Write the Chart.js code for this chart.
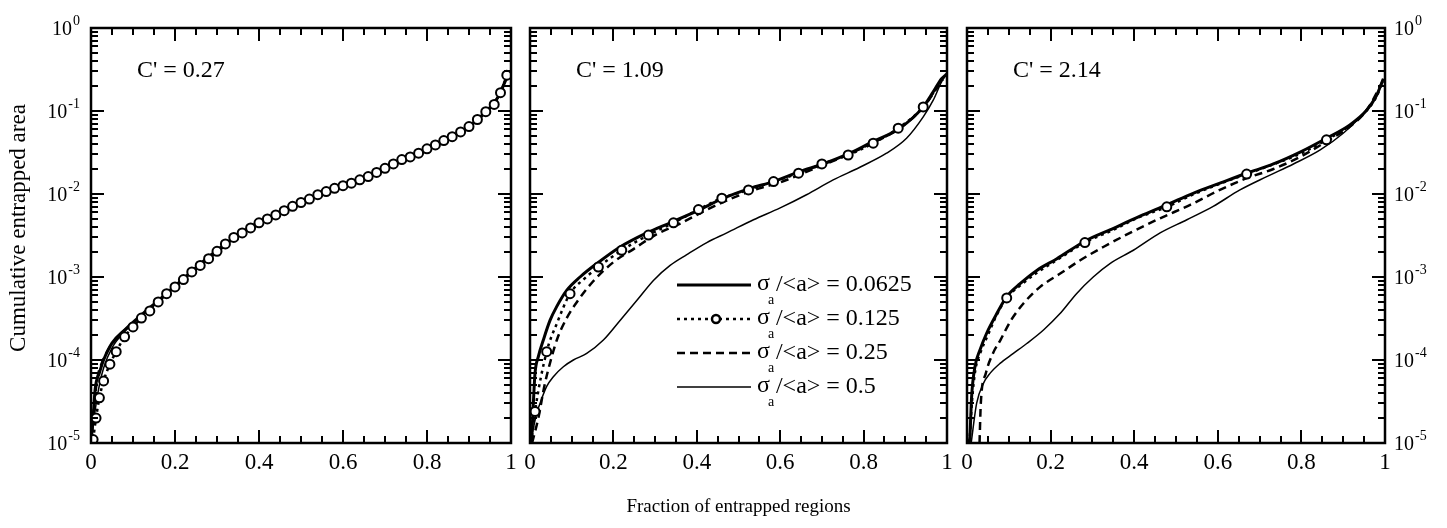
<!DOCTYPE html>
<html>
<head>
<meta charset="utf-8">
<script src="https://cdn.jsdelivr.net/npm/chart.js@4.4.0/dist/chart.umd.min.js"></script>
<style>
  html, body { margin: 0; padding: 0; background: #fff; }
  #wrap { position: relative; width: 1447px; height: 528px; }
  #wrap canvas { position: absolute; left: 0; top: 0; }
</style>
</head>
<body>
<div id="wrap">
  <canvas id="c1" width="1447" height="528"></canvas>
  <canvas id="c2" width="1447" height="528"></canvas>
  <canvas id="c3" width="1447" height="528"></canvas>
</div>
<script>
// ---- data (x = fraction of entrapped regions, y = cumulative entrapped area) ----
const sigmaLabels = ['0.0625', '0.125', '0.25', '0.5'];
const cValues = ['0.27', '1.09', '2.14'];
const xTicks = [0, 0.2, 0.4, 0.6, 0.8, 1];
const xTickLabels = ['0', '0.2', '0.4', '0.6', '0.8', '1'];
const yDecades = [-5, -4, -3, -2, -1, 0];

// C' = 0.27
const p1s0625 = [[0,1e-5],[0.005,2e-5],[0.01,4.5e-5],[0.02,7e-5],[0.03,1e-4],[0.05,1.6e-4],[0.08,2.3e-4],[0.12,3.5e-4],[0.16,5.2e-4],[0.2,7.8e-4],[0.25,1.3e-3],[0.3,2.1e-3],[0.35,3.2e-3],[0.4,4.6e-3],[0.45,6.0e-3],[0.5,8.0e-3],[0.55,1.03e-2],[0.6,1.27e-2],[0.65,1.55e-2],[0.7,2.05e-2],[0.75,2.7e-2],[0.8,3.5e-2],[0.85,4.6e-2],[0.9,6.5e-2],[0.94,9.8e-2],[0.97,0.15],[0.99,0.25],[1.0,0.3]];
const p1s125 = [[0.005,1.1e-5],[0.012,2.0e-5],[0.02,3.5e-5],[0.03,5.6e-5],[0.045,8.9e-5],[0.06,1.26e-4],[0.08,1.9e-4],[0.1,2.5e-4],[0.12,3.2e-4],[0.14,3.9e-4],[0.16,5.0e-4],[0.18,6.3e-4],[0.2,7.6e-4],[0.22,9.3e-4],[0.24,1.15e-3],[0.26,1.38e-3],[0.28,1.66e-3],[0.3,2.04e-3],[0.32,2.5e-3],[0.34,3.0e-3],[0.36,3.4e-3],[0.38,3.9e-3],[0.4,4.5e-3],[0.42,5.0e-3],[0.44,5.6e-3],[0.46,6.3e-3],[0.48,7.1e-3],[0.5,7.9e-3],[0.52,8.7e-3],[0.54,9.8e-3],[0.56,1.07e-2],[0.58,1.17e-2],[0.6,1.26e-2],[0.62,1.35e-2],[0.64,1.48e-2],[0.66,1.62e-2],[0.68,1.82e-2],[0.7,2.04e-2],[0.72,2.3e-2],[0.74,2.6e-2],[0.76,2.8e-2],[0.78,3.1e-2],[0.8,3.5e-2],[0.82,3.9e-2],[0.84,4.4e-2],[0.86,4.9e-2],[0.88,5.6e-2],[0.9,6.5e-2],[0.92,7.9e-2],[0.94,9.8e-2],[0.96,0.12],[0.975,0.166],[0.99,0.27]];
const p1s25 = [[0,1e-5],[0.008,3e-5],[0.015,6e-5],[0.025,9e-5],[0.04,1.3e-4],[0.06,1.8e-4],[0.1,2.8e-4],[0.15,4.6e-4],[0.2,7.6e-4],[0.25,1.25e-3],[0.3,2.0e-3],[0.35,3.1e-3],[0.4,4.5e-3],[0.45,5.9e-3],[0.5,7.9e-3],[0.55,1.02e-2],[0.6,1.26e-2],[0.65,1.55e-2],[0.7,2.0e-2],[0.75,2.7e-2],[0.8,3.5e-2],[0.85,4.6e-2],[0.9,6.4e-2],[0.94,9.6e-2],[0.97,0.15],[0.99,0.25],[1.0,0.3]];
const p1s5 = [[0,1e-5],[0.01,2.5e-5],[0.02,5e-5],[0.03,8e-5],[0.05,1.4e-4],[0.08,2.2e-4],[0.12,3.4e-4],[0.16,5.0e-4],[0.2,7.6e-4],[0.25,1.25e-3],[0.3,2.0e-3],[0.35,3.1e-3],[0.4,4.4e-3],[0.45,5.9e-3],[0.5,7.8e-3],[0.55,1.0e-2],[0.6,1.25e-2],[0.65,1.55e-2],[0.7,2.0e-2],[0.75,2.65e-2],[0.8,3.45e-2],[0.85,4.5e-2],[0.9,6.3e-2],[0.94,9.5e-2],[0.97,0.15],[0.99,0.25],[1.0,0.3]];

// C' = 1.09
const p2s0625 = [[0,1e-5],[0.004,1.2e-5],[0.008,3.0e-5],[0.012,6.9e-5],[0.02,1.1e-4],[0.032,1.74e-4],[0.048,3.0e-4],[0.064,4.4e-4],[0.088,6.9e-4],[0.12,1.0e-3],[0.16,1.45e-3],[0.216,2.3e-3],[0.28,3.4e-3],[0.336,4.5e-3],[0.4,6.2e-3],[0.464,8.9e-3],[0.528,1.17e-2],[0.584,1.41e-2],[0.647,1.86e-2],[0.703,2.3e-2],[0.767,3.1e-2],[0.823,4.3e-2],[0.887,6.2e-2],[0.943,0.112],[0.967,0.17],[0.987,0.245],[1.0,0.28]];
const p2s125 = [[0.003,1.0e-5],[0.012,2.4e-5],[0.04,1.26e-4],[0.065,2.8e-4],[0.096,6.3e-4],[0.13,9.5e-4],[0.164,1.32e-3],[0.22,2.1e-3],[0.284,3.2e-3],[0.344,4.5e-3],[0.404,6.5e-3],[0.46,8.9e-3],[0.524,1.12e-2],[0.584,1.41e-2],[0.644,1.78e-2],[0.7,2.3e-2],[0.763,2.95e-2],[0.823,4.1e-2],[0.883,6.2e-2],[0.943,0.112],[0.99,0.25]];
const p2s25 = [[0.005,1.0e-5],[0.02,2.0e-5],[0.035,5.0e-5],[0.05,1.0e-4],[0.065,1.78e-4],[0.088,3.2e-4],[0.115,5.2e-4],[0.15,8.7e-4],[0.2,1.51e-3],[0.25,2.2e-3],[0.3,3.2e-3],[0.36,4.4e-3],[0.42,6.3e-3],[0.48,8.7e-3],[0.55,1.17e-2],[0.6,1.38e-2],[0.65,1.74e-2],[0.7,2.2e-2],[0.76,2.95e-2],[0.82,4.1e-2],[0.88,5.9e-2],[0.94,0.107],[0.99,0.24]];
const p2s5 = [[0,1e-5],[0.004,1.2e-5],[0.016,2.3e-5],[0.024,3.0e-5],[0.04,4.8e-5],[0.056,6.3e-5],[0.08,8.3e-5],[0.104,1.0e-4],[0.136,1.2e-4],[0.176,1.74e-4],[0.216,3.0e-4],[0.256,5.2e-4],[0.296,9.1e-4],[0.336,1.38e-3],[0.376,1.86e-3],[0.424,2.6e-3],[0.472,3.4e-3],[0.536,4.9e-3],[0.6,6.8e-3],[0.663,9.8e-3],[0.727,1.48e-2],[0.791,2.1e-2],[0.855,3.1e-2],[0.903,4.7e-2],[0.943,8.5e-2],[0.967,0.135],[0.987,0.224],[1.0,0.28]];

// C' = 2.14
const p3s0625 = [[0.004,1e-5],[0.007,1.2e-5],[0.011,3.6e-5],[0.019,8.3e-5],[0.031,1.32e-4],[0.047,2.1e-4],[0.071,3.6e-4],[0.095,5.8e-4],[0.127,8.3e-4],[0.167,1.2e-3],[0.215,1.66e-3],[0.282,2.7e-3],[0.342,3.7e-3],[0.414,5.4e-3],[0.478,7.4e-3],[0.541,1.02e-2],[0.605,1.35e-2],[0.669,1.78e-2],[0.733,2.3e-2],[0.797,3.2e-2],[0.86,4.7e-2],[0.916,6.8e-2],[0.956,0.102],[0.98,0.155],[0.996,0.245]];
const p3s125 = [[0.006,1.0e-5],[0.012,3.2e-5],[0.02,7.6e-5],[0.033,1.26e-4],[0.05,2.0e-4],[0.07,3.4e-4],[0.095,5.6e-4],[0.13,8.1e-4],[0.17,1.15e-3],[0.22,1.66e-3],[0.282,2.6e-3],[0.35,3.7e-3],[0.41,5.2e-3],[0.478,7.0e-3],[0.54,9.8e-3],[0.6,1.3e-2],[0.669,1.74e-2],[0.73,2.25e-2],[0.8,3.1e-2],[0.86,4.5e-2],[0.915,6.6e-2],[0.955,0.1],[0.98,0.15],[0.996,0.24]];
const p3s25 = [[0.03,1e-5],[0.033,3.0e-5],[0.045,6.9e-5],[0.062,1.2e-4],[0.08,1.74e-4],[0.105,3.0e-4],[0.135,4.8e-4],[0.175,7.6e-4],[0.223,1.1e-3],[0.27,1.58e-3],[0.326,2.3e-3],[0.39,3.4e-3],[0.462,5.1e-3],[0.534,7.4e-3],[0.605,1.12e-2],[0.669,1.55e-2],[0.733,2.0e-2],[0.797,2.8e-2],[0.86,4.3e-2],[0.916,6.5e-2],[0.956,0.102],[0.996,0.234]];
const p3s5 = [[0.01,1e-5],[0.023,3.0e-5],[0.039,5.2e-5],[0.055,6.9e-5],[0.079,9.1e-5],[0.111,1.2e-4],[0.143,1.58e-4],[0.183,2.3e-4],[0.222,3.6e-4],[0.262,6.3e-4],[0.302,1.0e-3],[0.342,1.45e-3],[0.398,2.1e-3],[0.462,3.4e-3],[0.526,4.9e-3],[0.589,7.1e-3],[0.653,1.12e-2],[0.717,1.62e-2],[0.781,2.3e-2],[0.845,3.4e-2],[0.9,5.4e-2],[0.948,9.3e-2],[0.98,0.155],[0.996,0.245]];

// which points of the sigma=0.125 series carry a circle
const p2Marks = [1, 2, 4, 6, 7, 8, 9, 10, 11, 12, 13, 14, 15, 16, 17, 18, 19];
const p3Marks = [6, 10, 13, 16, 19];

// ---- drawing ----
const FONT = '"Liberation Serif", "Times New Roman", serif';
const toXY = arr => arr.map(p => ({ x: p[0], y: p[1] }));

function makeDatasets(series, marks) {
  const base = { borderColor: '#000', pointRadius: 0, cubicInterpolationMode: 'monotone', fill: false };
  return [
    Object.assign({}, base, { label: sigmaLabels[0], data: toXY(series[0]), borderWidth: 3, order: 1 }),
    Object.assign({}, base, {
      label: sigmaLabels[1], data: toXY(series[1]), borderWidth: 2.5, borderDash: [3, 4], order: 0,
      pointRadius: ctx => (marks === 'all' || marks.includes(ctx.dataIndex)) ? 4.5 : 0,
      pointBorderWidth: 2, pointBackgroundColor: '#fff', pointBorderColor: '#000', marker: true
    }),
    Object.assign({}, base, { label: sigmaLabels[2], data: toXY(series[2]), borderWidth: 2.5, borderDash: [8, 5], order: 1 }),
    Object.assign({}, base, { label: sigmaLabels[3], data: toXY(series[3]), borderWidth: 1.5, order: 1 })
  ];
}

function drawPow(ctx, x, y, exp, align) {
  ctx.font = '20px ' + FONT;
  const w1 = ctx.measureText('10').width;
  ctx.font = '14px ' + FONT;
  const w2 = ctx.measureText(exp).width;
  const x0 = align === 'right' ? x - w1 - w2 - 1 : x;
  ctx.textAlign = 'left';
  ctx.textBaseline = 'alphabetic';
  ctx.font = '20px ' + FONT;
  ctx.fillText('10', x0, y + 7);
  ctx.font = '14px ' + FONT;
  ctx.fillText(exp, x0 + w1 + 1, y - 3);
}

const framePlugin = {
  id: 'frame',
  afterDraw(chart, args, o) {
    const ctx = chart.ctx, a = chart.chartArea;
    const xs = chart.scales.x, ys = chart.scales.y;
    ctx.save();
    ctx.strokeStyle = '#000';
    ctx.fillStyle = '#000';
    ctx.setLineDash([]);

    // ticks pointing inward on all four sides
    ctx.lineWidth = 2;
    ctx.beginPath();
    for (let k = 0; k <= 20; k++) {
      const px = Math.round(xs.getPixelForValue(k * 0.05));
      const len = k % 4 === 0 ? 13 : 7;
      ctx.moveTo(px, a.bottom); ctx.lineTo(px, a.bottom - len);
      ctx.moveTo(px, a.top); ctx.lineTo(px, a.top + len);
    }
    yDecades.forEach(e => {
      const dec = Math.pow(10, e);
      const py = Math.round(ys.getPixelForValue(dec));
      ctx.moveTo(a.left, py); ctx.lineTo(a.left + 13, py);
      ctx.moveTo(a.right, py); ctx.lineTo(a.right - 13, py);
      if (e < 0) {
        for (let m = 2; m <= 9; m++) {
          const pm = Math.round(ys.getPixelForValue(m * dec));
          ctx.moveTo(a.left, pm); ctx.lineTo(a.left + 7, pm);
          ctx.moveTo(a.right, pm); ctx.lineTo(a.right - 7, pm);
        }
      }
    });
    ctx.stroke();

    ctx.lineWidth = 2.5;
    ctx.strokeRect(a.left, a.top, a.right - a.left, a.bottom - a.top);

    // x tick labels
    ctx.font = '23px ' + FONT;
    ctx.textAlign = 'center';
    ctx.textBaseline = 'middle';
    xTicks.forEach((v, i) => ctx.fillText(xTickLabels[i], xs.getPixelForValue(v), a.bottom + 20));

    // y tick labels
    if (o.yLabels) {
      yDecades.forEach(e => {
        const py = ys.getPixelForValue(Math.pow(10, e));
        if (o.yLabels === 'left') drawPow(ctx, a.left - 11, py, String(e), 'right');
        else drawPow(ctx, a.right + 9, py, String(e), 'left');
      });
    }

    // C' annotation
    ctx.font = '24px ' + FONT;
    ctx.textAlign = 'left';
    ctx.textBaseline = 'middle';
    ctx.fillText("C' = " + o.c, a.left + 46, a.top + 43);

    // legend
    if (o.legend) {
      const rows = [285, 319, 353, 387];
      chart.data.datasets.forEach((d, i) => {
        const y = rows[i];
        const x1 = a.left + 147, x2 = a.left + 221;
        ctx.save();
        ctx.lineWidth = d.borderWidth;
        ctx.setLineDash(d.borderDash || []);
        ctx.beginPath(); ctx.moveTo(x1, y); ctx.lineTo(x2, y); ctx.stroke();
        ctx.restore();
        if (d.marker) {
          ctx.save();
          ctx.setLineDash([]);
          ctx.lineWidth = 2.5;
          ctx.fillStyle = '#fff';
          ctx.beginPath(); ctx.arc((x1 + x2) / 2 + 2, y, 4, 0, Math.PI * 2);
          ctx.fill(); ctx.stroke();
          ctx.restore();
        }
        const tx = x2 + 6;
        ctx.font = '24px ' + FONT;
        ctx.textAlign = 'left';
        ctx.textBaseline = 'middle';
        ctx.fillText('\u03c3', tx, y - 1);
        const ws = ctx.measureText('\u03c3').width;
        ctx.fillText('/<a> = ' + d.label, tx + ws + 6, y);
        ctx.font = '14px ' + FONT;
        ctx.fillText('a', tx + ws - 2, y + 15);
      });
    }

    // axis titles
    if (o.yTitle) {
      ctx.save();
      ctx.translate(19, 228);
      ctx.rotate(-Math.PI / 2);
      ctx.font = '23px ' + FONT;
      ctx.textAlign = 'center';
      ctx.textBaseline = 'middle';
      ctx.fillText(o.yTitle, 0, 0);
      ctx.restore();
    }
    if (o.xTitle) {
      ctx.font = '19px ' + FONT;
      ctx.textAlign = 'center';
      ctx.textBaseline = 'middle';
      ctx.fillText(o.xTitle, (a.left + a.right) / 2, 507);
    }
    ctx.restore();
  }
};

const W = 1447, H = 528, TOP = 28, BOTTOM = 443;
const panels = [
  { id: 'c1', left: 91, right: 511, series: [p1s0625, p1s125, p1s25, p1s5], marks: 'all',
    frame: { c: cValues[0], yLabels: 'left', yTitle: 'Cumulative entrapped area' } },
  { id: 'c2', left: 530, right: 947, series: [p2s0625, p2s125, p2s25, p2s5], marks: p2Marks,
    frame: { c: cValues[1], legend: true, xTitle: 'Fraction of entrapped regions' } },
  { id: 'c3', left: 967, right: 1385, series: [p3s0625, p3s125, p3s25, p3s5], marks: p3Marks,
    frame: { c: cValues[2], yLabels: 'right' } }
];

panels.forEach(p => {
  new Chart(document.getElementById(p.id), {
    type: 'line',
    data: { datasets: makeDatasets(p.series, p.marks) },
    options: {
      responsive: false,
      animation: false,
      devicePixelRatio: 1,
      events: [],
      layout: { padding: { left: p.left, right: W - p.right, top: TOP, bottom: H - BOTTOM } },
      scales: {
        x: { type: 'linear', min: 0, max: 1, display: false },
        y: { type: 'logarithmic', min: 1e-5, max: 1, display: false }
      },
      plugins: {
        legend: { display: false },
        tooltip: { enabled: false },
        frame: p.frame
      }
    },
    plugins: [framePlugin]
  });
});
</script>
</body>
</html>
